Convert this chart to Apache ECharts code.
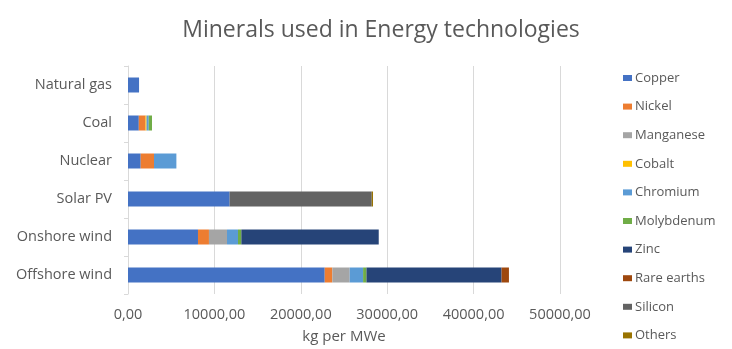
<!DOCTYPE html>
<html>
<head>
<meta charset="utf-8">
<script src="https://cdn.jsdelivr.net/npm/echarts@6/dist/echarts.min.js"></script>
<style>html,body{margin:0;padding:0;background:#fff}#c{width:732px;height:349px}</style>
</head>
<body>
<div id="c"></div>
<script>
const categories = ['Natural gas', 'Coal', 'Nuclear', 'Solar PV', 'Onshore wind', 'Offshore wind'];
const copper     = [1280, 1250, 1470, 11760, 8100, 22770];
const nickel     = [0, 780, 1540, 0, 1270, 880];
const manganese  = [0, 0, 0, 0, 2090, 2010];
const cobalt     = [0, 120, 0, 0, 0, 0];
const chromium   = [0, 250, 2590, 0, 1270, 1550];
const molybdenum = [0, 380, 0, 0, 390, 390];
const zinc       = [0, 0, 0, 0, 15900, 15640];
const rareEarths = [0, 0, 0, 0, 0, 850];
const silicon    = [0, 0, 0, 16450, 0, 0];
const others     = [0, 0, 0, 150, 0, 0];
const xTicks = [0, 10000, 20000, 30000, 40000, 50000];

const seriesDefs = [
  ['Copper', copper, '#4472C4'],
  ['Nickel', nickel, '#ED7D31'],
  ['Manganese', manganese, '#A5A5A5'],
  ['Cobalt', cobalt, '#FFC000'],
  ['Chromium', chromium, '#5B9BD5'],
  ['Molybdenum', molybdenum, '#70AD47'],
  ['Zinc', zinc, '#264478'],
  ['Rare earths', rareEarths, '#9E480E'],
  ['Silicon', silicon, '#636363'],
  ['Others', others, '#997300']
];

const font = '"Open Sans", sans-serif';
const chart = echarts.init(document.getElementById('c'));
chart.setOption({
  animation: false,
  textStyle: { fontFamily: font },
  title: {
    text: 'Minerals used in Energy technologies',
    left: 376, top: 14, textAlign: 'center',
    textStyle: { fontFamily: font, fontSize: 23, fontWeight: 'normal', color: '#595959' }
  },
  legend: {
    orient: 'vertical', left: 623, top: 69, padding: 0,
    itemWidth: 9, itemHeight: 6, itemGap: 10.6,
    icon: 'rect',
    textStyle: { fontFamily: font, fontSize: 13, lineHeight: 18, color: '#595959', padding: [0, 0, 0, -2] },
    data: seriesDefs.map(d => d[0])
  },
  grid: { left: 128, right: 172, top: 66, bottom: 55, containLabel: false },
  xAxis: {
    type: 'value', min: xTicks[0], max: xTicks[xTicks.length - 1], interval: 10000,
    axisLine: { show: false }, axisTick: { show: false },
    splitLine: { lineStyle: { color: '#D9D9D9', width: 1 } },
    axisLabel: { color: '#595959', fontSize: 14.5, fontFamily: font, margin: 13,
      formatter: v => v.toFixed(2).replace('.', ',') },
    name: 'kg per MWe', nameLocation: 'middle', nameGap: 35,
    nameTextStyle: { color: '#595959', fontSize: 15, fontFamily: font }
  },
  yAxis: {
    type: 'category', data: categories, inverse: true,
    axisLine: { show: true, lineStyle: { color: '#D9D9D9' } },
    axisTick: { show: true, length: 4, lineStyle: { color: '#D9D9D9' } },
    axisLabel: { color: '#595959', fontSize: 14.5, fontFamily: font, margin: 16 }
  },
  series: seriesDefs.map(d => ({
    name: d[0], type: 'bar', stack: 'total', data: d[1], barWidth: 15,
    itemStyle: { color: d[2] }
  }))
});
</script>
</body>
</html>
